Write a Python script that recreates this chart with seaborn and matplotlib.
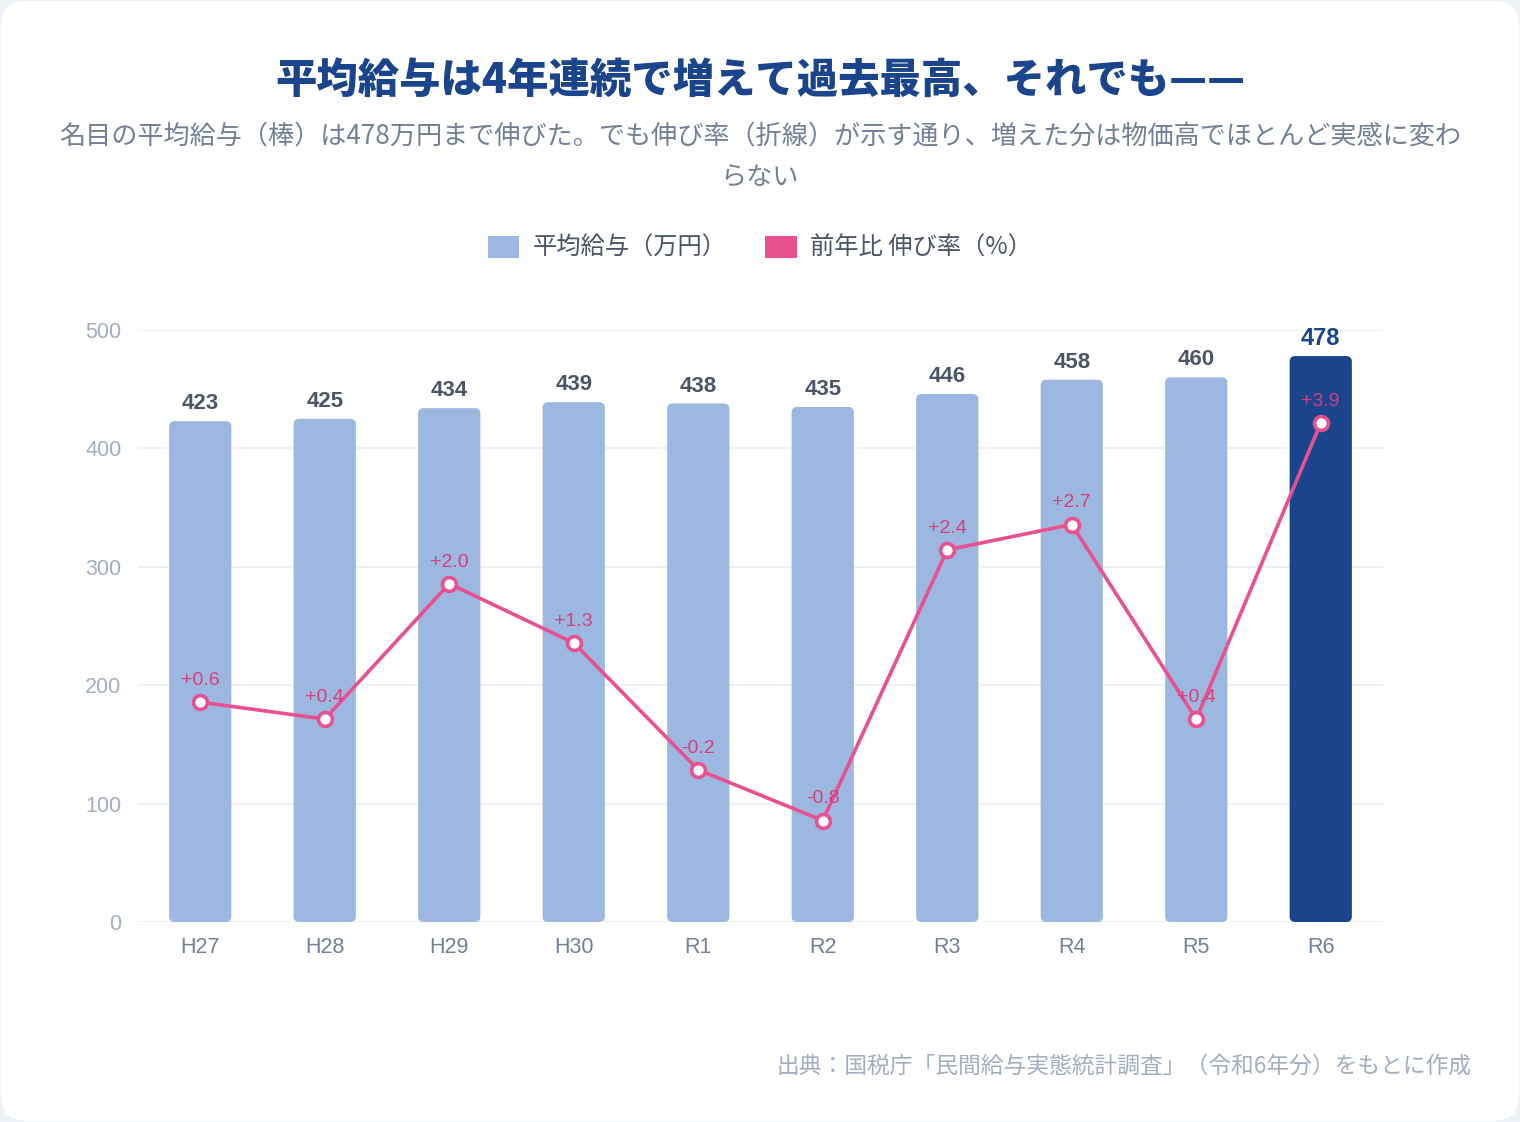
import numpy as np
import pandas as pd
import seaborn as sns
import matplotlib as mpl
mpl.use('Agg')
import matplotlib.pyplot as plt
from matplotlib.patches import FancyBboxPatch, Patch
from matplotlib.transforms import IdentityTransform

# data
years = ['H27', 'H28', 'H29', 'H30', 'R1', 'R2', 'R3', 'R4', 'R5', 'R6']
salary = [423, 425, 434, 439, 438, 435, 446, 458, 460, 478]
growth = [0.6, 0.4, 2.0, 1.3, -0.2, -0.8, 2.4, 2.7, 0.4, 3.9]
growth_labels = ['+0.6', '+0.4', '+2.0', '+1.3', '-0.2', '-0.8', '+2.4', '+2.7', '+0.4', '+3.9']

title = '平均給与は4年連続で増えて過去最高、それでも——'
subtitle = ('名目の平均給与（棒）は478万円まで伸びた。でも伸び率（折線）が示す通り、増えた分は物価高でほとんど実感に変わ\n'
            'らない')
source = '出典：国税庁「民間給与実態統計調査」（令和6年分）をもとに作成'
legend_labels = ['平均給与（万円）', '前年比 伸び率（%）']

c_bar = '#9db8e0'
c_bar_hi = '#1a448c'
c_line = '#e8508f'
c_linetxt = '#d63f7a'
c_dark = '#4a5568'
c_mid = '#718096'
c_light = '#a0aec0'
num_font = ['Liberation Sans', 'Noto Sans CJK JP']

sns.set_style('white')
plt.rcParams['font.family'] = ['Noto Sans CJK JP', 'DejaVu Sans']

df = pd.DataFrame({'year': years, 'salary': salary, 'growth': growth})

fig = plt.figure(figsize=(15.2, 11.22), dpi=100)
fig.patch.set_facecolor('#edf2f9')
card = FancyBboxPatch((1, 1), 1518, 1120, boxstyle='round,pad=0,rounding_size=26',
                      transform=IdentityTransform(), facecolor='white', edgecolor='none', zorder=-10)
fig.patches.append(card)

ax = fig.add_axes([138 / 1520, 1 - 922 / 1122, (1383 - 138) / 1520, (922 - 330) / 1122])
ax.set_facecolor('none')

sns.barplot(data=df, x='year', y='salary', ax=ax, width=0.5,
            palette=[c_bar] * 9 + [c_bar_hi], hue='year', legend=False, saturation=1)

# rounded bars
for p in list(ax.patches):
    x, w, h = p.get_x(), p.get_width(), p.get_height()
    fc = p.get_facecolor()
    p.remove()
    rb = FancyBboxPatch((x, 0), w, h, boxstyle='round,pad=0,rounding_size=0.045',
                        mutation_aspect=105, facecolor=fc, edgecolor='none', zorder=2)
    ax.add_patch(rb)

for i, v in enumerate(salary):
    last = i == len(salary) - 1
    ax.annotate(str(v), (i, v), xytext=(0, 12.5), textcoords='offset points', ha='center',
                va='center', fontsize=17 if last else 16, fontweight='bold',
                color=c_bar_hi if last else c_dark, family=num_font)

ax.set_xlim(-0.5, 9.5)
ax.set_ylim(0, 500)
ax.set_yticks([0, 100, 200, 300, 400, 500])
ax.grid(axis='y', color='#edf1f7', linewidth=1.5, zorder=0)
ax.set_axisbelow(True)
sns.despine(ax=ax, left=True, bottom=True)
ax.tick_params(axis='y', length=0, pad=12, labelsize=15.5, labelcolor=c_light)
ax.tick_params(axis='x', length=0, pad=11, labelsize=15.5, labelcolor=c_mid)
for t in ax.get_xticklabels() + ax.get_yticklabels():
    t.set_family(num_font)
ax.set_xlabel('')
ax.set_ylabel('')

# growth line on hidden secondary axis
ax2 = ax.twinx()
sns.lineplot(x=np.arange(len(growth)), y=growth, ax=ax2, color=c_line, linewidth=2.6,
             marker='o', markersize=10, markerfacecolor='white', markeredgecolor=c_line,
             markeredgewidth=2.6, zorder=5)
ax2.set_ylim(-2, 5)
ax2.set_xlim(-0.5, 9.5)
ax2.axis('off')
for i, (g, lab) in enumerate(zip(growth, growth_labels)):
    ax2.annotate(lab, (i, g), xytext=(0, 15.5), textcoords='offset points', ha='center',
                 va='center', fontsize=14, color=c_linetxt, zorder=6, family=num_font)

fig.text(0.5, 1 - 81 / 1122, title, ha='center', va='center', fontsize=29.8,
         fontweight=900, color=c_bar_hi)
fig.text(0.5, 1 - 157 / 1122, subtitle, ha='center', va='center', fontsize=18.8,
         color=c_mid, linespacing=1.72)

handles = [Patch(facecolor=c_bar, edgecolor='none', label=legend_labels[0]),
           Patch(facecolor=c_line, edgecolor='none', label=legend_labels[1])]
leg = fig.legend(handles=handles, loc='center', bbox_to_anchor=(0.5, 1 - 248 / 1122), ncol=2,
                 frameon=False, fontsize=17.5, handlelength=1.3, handleheight=1.0,
                 columnspacing=1.6, handletextpad=0.55)
for t in leg.get_texts():
    t.set_color(c_dark)

fig.text(1472 / 1520, 1 - 1066 / 1122, source, ha='right', va='center', fontsize=16.4,
         color=c_light)

fig.savefig('out.png', dpi=100, facecolor=fig.get_facecolor())
